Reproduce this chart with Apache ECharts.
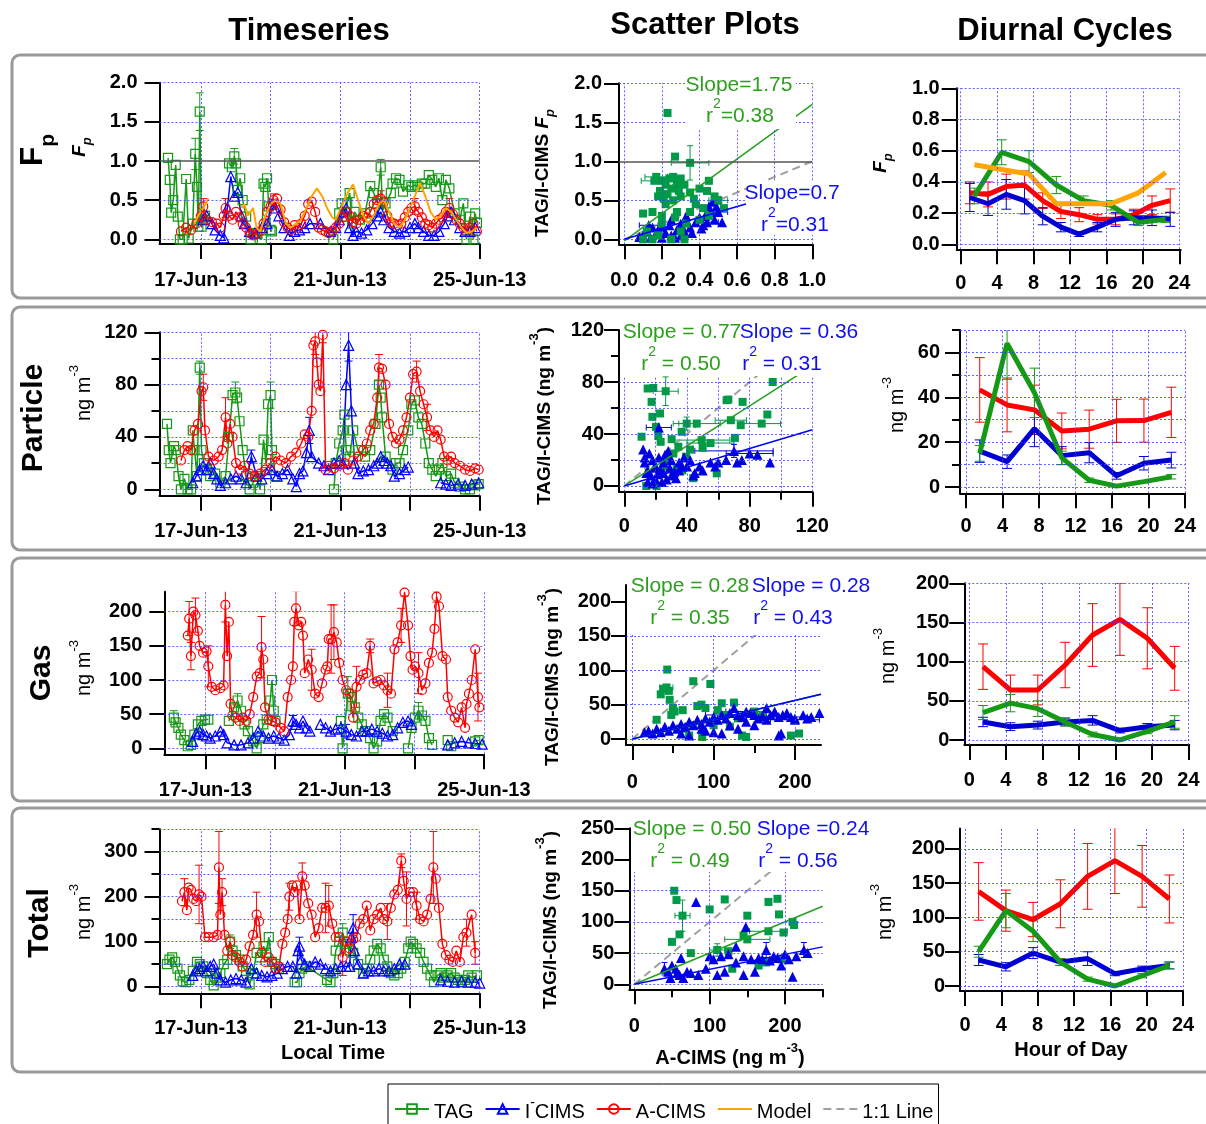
<!DOCTYPE html>
<html>
<head>
<meta charset="utf-8">
<title>TAG / I-CIMS / A-CIMS comparison</title>
<script src="https://cdn.jsdelivr.net/npm/echarts@6/dist/echarts.min.js"></script>
<style>
html,body{margin:0;padding:0;background:#fff;}
#chart{width:1206px;height:1124px;}
</style>
</head>
<body>
<div id="chart"></div>
<script>
// ---------------- data ----------------
// time axis: day of June 2013 (fractional); null marks a gap in the record
const tsTickDays = [17, 19, 21, 23, 25];
const tsLabelDays = [17, 21, 25];
const diurnalTicks = [0, 4, 8, 12, 16, 20, 24];
const hours3 = [1.5, 4.5, 7.5, 10.5, 13.5, 16.5, 19.5, 22.5];
const hours2 = [1, 3, 5, 7, 9, 11, 13, 15, 17, 19, 21, 23];

// Fp timeseries [day, value, (error)]
const fpTsTAG = [[16.06,1.04],[16.11,0.76],[16.15,0.34],[16.21,0.5],[16.28,0.95],[16.34,0.29],[16.40,0.0],[16.48,0.0],[16.58,0.77],[16.65,0.01],[16.77,0.2],[16.84,1.09,0.2],[16.89,0.67],[16.93,0.16],[16.97,1.63,0.24],[17.02,0.16],[17.07,0.25],[17.12,0.3],null,
  [17.81,0.97],[17.89,0.92],[17.96,1.06,0.1],[18.01,0.97],[18.06,0.63],[18.13,0.78],[18.20,0.5],[18.30,0.29],[18.43,0.0],[18.55,0.08],[18.75,0.0],[18.80,0.71],[18.85,0.67],[18.90,0.78],[18.95,0.42],[19.00,0.12],[19.04,0.1],null,
  [20.80,0.0],[20.97,0.33],[21.04,0.46],[21.12,0.29],[21.20,0.46],[21.27,0.59],[21.34,0.2],[21.41,0.35],[21.56,0.25],[21.71,0.33],[21.86,0.68],[21.96,0.59],[22.06,0.46],[22.16,0.92,0.1],[22.22,0.37],[22.30,0.46],[22.45,0.59],[22.50,0.71],[22.60,0.78],[22.70,0.76],[22.80,0.61],[22.95,0.69],[23.04,0.67],[23.14,0.69],[23.24,0.67],[23.34,0.71],[23.44,0.71],[23.54,0.82],[23.64,0.76],[23.74,0.67],[23.83,0.78],[23.93,0.5],[24.03,0.76],[24.13,0.65],[24.28,0.33],[24.43,0.25],[24.53,0.46],[24.62,0.0],[24.72,0.29],[24.82,0.0],[24.87,0.33],[24.92,0.21]];
const fpTsICIMS = [[17.07,0.25],[17.17,0.3],[17.32,0.2],[17.41,0.12],[17.56,0.05],[17.66,0.02],[17.76,0.4],[17.86,0.8],[17.96,0.55],[18.06,0.6],[18.16,0.3],[18.25,0.2],[18.40,0.1],[18.55,0.08],[18.75,0.15],[18.90,0.2],[19.04,0.45],[19.14,0.4],[19.24,0.3],[19.39,0.15],[19.54,0.05],[19.69,0.1],[19.83,0.12],[19.98,0.15],[20.13,0.2],[20.43,0.2],[20.72,0.1],[20.87,0.15],[20.97,0.25],[21.07,0.35],[21.17,0.4],[21.27,0.15],[21.37,0.05],[21.46,0.1],[21.61,0.08],[21.76,0.12],[21.91,0.2],[22.06,0.3],[22.16,0.35],[22.25,0.25],[22.40,0.15],[22.55,0.1],[22.70,0.08],[22.85,0.1],[23.00,0.15],[23.14,0.2],[23.24,0.15],[23.39,0.1],[23.54,0.05],[23.69,0.05],[23.83,0.1],[23.98,0.2],[24.08,0.3],[24.18,0.35],[24.28,0.25],[24.43,0.15],[24.58,0.1],[24.72,0.1],[24.87,0.15]];
const fpTsACIMS = [[16.43,0.1],[16.58,0.15],[16.72,0.12],[16.87,0.2],[17.0,0.3],[17.07,0.42,0.1],[17.17,0.25],[17.32,0.22],[17.46,0.2],[17.56,0.15],[17.66,0.3],[17.71,0.4,0.12],[17.81,0.3],[17.91,0.25],[18.01,0.35],[18.11,0.28],[18.20,0.2],[18.30,0.15],[18.40,0.08],[18.50,0.05],[18.60,0.07],[18.70,0.1],[18.80,0.2],[18.90,0.35],[19.00,0.42],[19.09,0.5,0.08],[19.19,0.52],[19.29,0.38],[19.39,0.22],[19.49,0.15],[19.59,0.12],[19.69,0.18],[19.79,0.15],[19.88,0.2],[19.98,0.3],[20.08,0.45],[20.18,0.48],[20.28,0.35],[20.38,0.15],[20.48,0.12],[20.58,0.1],[20.67,0.08],[20.77,0.1],[20.87,0.15],[20.97,0.2],[21.07,0.28],[21.17,0.35],[21.27,0.3],[21.37,0.22],[21.46,0.2],[21.56,0.25],[21.66,0.3],[21.76,0.28],[21.86,0.35],[21.96,0.45],[22.06,0.5],[22.16,0.52,0.1],[22.25,0.48],[22.35,0.3],[22.45,0.22],[22.55,0.2],[22.65,0.18],[22.75,0.2],[22.85,0.28],[22.95,0.35],[23.04,0.4],[23.14,0.42,0.1],[23.24,0.35],[23.34,0.28],[23.44,0.2],[23.54,0.18],[23.64,0.15],[23.74,0.2],[23.83,0.25],[23.93,0.28],[24.03,0.35],[24.13,0.4,0.12],[24.23,0.32],[24.33,0.25],[24.43,0.2],[24.53,0.15],[24.62,0.1],[24.72,0.15],[24.82,0.2],[24.92,0.1]];
const fpTsModel = [[16.82,0.2],[16.92,0.3],[17.07,0.4],[17.22,0.52],null,[18.16,0.4],[18.25,0.45],[18.35,0.3],[18.50,0.4],[18.60,0.15],[18.70,0.1],[18.85,0.3],[19.00,0.45],[19.14,0.5],[19.29,0.45],[19.44,0.2],[19.59,0.15],[19.74,0.2],[19.88,0.25],[20.03,0.4],[20.18,0.55],[20.33,0.65],[20.48,0.55],[20.62,0.4],[20.77,0.28],[20.87,0.25],[20.97,0.35],[21.07,0.45],[21.22,0.6],[21.37,0.7],[21.51,0.5],[21.66,0.3],[21.81,0.2],[21.96,0.3],[22.11,0.45],[22.25,0.5],[22.40,0.35],[22.55,0.2],[22.70,0.15],[22.85,0.25],[23.00,0.4],[23.14,0.55],[23.29,0.72],[23.44,0.55],[23.59,0.35],[23.74,0.25],[23.88,0.3],[24.03,0.4],[24.18,0.35],[24.33,0.25],[24.48,0.15],[24.62,0.08],[24.77,0.1],[24.92,0.15]];

// particle-phase timeseries (ng m-3)
const partTsTAG = [[16.03,50],[16.08,30],[16.13,20],[16.23,33],[16.28,30],[16.36,10],[16.43,0],[16.53,8],[16.62,0],[16.72,0],[16.77,45],[16.82,30],[16.89,10],[16.97,93,5],[17.02,30],[17.09,20],[17.17,15],[17.27,10],[17.41,12],[17.56,5],[17.71,10],[17.81,40],[17.91,72],[17.99,74,8],[18.04,70],[18.11,52],[18.20,30],[18.30,10],[18.40,0],[18.50,5],[18.60,10],[18.70,0],[18.80,38],[18.87,20],[18.93,65],[19.00,72,10],[19.04,30],[19.14,10],null,
  [20.82,0],[20.87,20],[20.97,35],[21.07,45],[21.12,57],[21.17,30],[21.27,25],[21.37,45],[21.51,30],[21.71,25],[21.86,30],[22.01,50],[22.11,80],[22.16,70],[22.20,55],[22.30,25],[22.50,15],[22.60,20],[22.70,20],[22.80,30],[22.95,45],[23.04,65],[23.14,68],[23.24,55],[23.34,50],[23.44,35],[23.54,20],[23.64,15],[23.74,10],[23.83,15],[23.93,20],[24.03,10],[24.18,12],[24.28,5],[24.43,2],[24.58,0],[24.72,0],[24.87,3],[24.97,4]];
const partTsICIMS = [[16.77,5],[16.87,10],[16.97,15],[17.07,18],[17.17,15],[17.27,20],[17.37,12],[17.46,8],[17.56,3],[17.71,5],[17.86,8],[18.01,10],[18.16,8],[18.30,5],[18.45,25,5],[18.60,10],[18.75,8],[18.90,12],[19.04,15],[19.19,10],[19.34,12],[19.49,15],[19.64,8],[19.74,2],[19.83,12],[19.93,14],[20.03,28],[20.11,45,10],[20.18,25],[20.38,20],[20.53,18],[20.67,15],[20.82,20],[20.97,22],[21.07,20],[21.17,80],[21.24,110,12],[21.32,60],[21.41,20],[21.51,12],[21.66,14],[21.81,15],[21.96,18],[22.06,20],[22.16,25],[22.25,22],[22.35,20],[22.45,18],[22.55,10],[22.70,12],[22.85,15],[22.95,17],null,[23.88,5],[24.03,4],[24.18,3],[24.38,4],[24.58,3],[24.77,4],[24.97,5]];
const partTsACIMS = [[16.43,22],[16.53,30],[16.62,33],[16.72,30],[16.82,45],[16.92,50],[17.02,75],[17.07,78,10],[17.12,45],[17.22,25],[17.37,22],[17.51,25],[17.61,30],[17.71,55,15],[17.76,35],[17.84,50],[17.91,40],[18.01,20],[18.11,15],[18.25,18],[18.40,12],[18.55,10],[18.70,12],[18.85,15],[19.00,20],[19.14,25],[19.29,22],[19.44,20],[19.59,25],[19.74,28],[19.88,35],[19.98,42],[20.08,40],[20.18,60],[20.23,110],[20.28,113,10],[20.33,97],[20.38,80],[20.43,75],[20.50,118,6],[20.58,15],[20.67,18],[20.82,16],[20.97,18],[21.12,20],[21.22,15],[21.37,22],[21.51,25],[21.66,30],[21.76,35],[21.86,45],[21.96,50],[22.06,70],[22.11,93,10],[22.20,92],[22.30,80],[22.40,50],[22.50,40],[22.60,35],[22.70,38],[22.80,45],[22.90,55],[23.00,70],[23.09,88],[23.19,90,8],[23.29,75],[23.39,65],[23.49,55,10],[23.59,45],[23.69,40],[23.79,45],[23.88,38],[23.98,25],[24.08,22],[24.18,25],[24.28,20],[24.43,18],[24.58,15],[24.72,14],[24.87,16],[24.97,15]];

// gas-phase timeseries (ng m-3)
const gasTsTAG = [[16.09,45,10],[16.14,38],[16.22,30],[16.29,20],[16.39,12],[16.49,3],[16.58,5],[16.68,20],[16.78,35],[16.88,40],[16.98,42],[17.08,42],null,
  [17.67,40],[17.82,60],[17.92,70,10],[18.02,55],[18.12,35],[18.22,25],[18.37,10],[18.47,0],[18.56,15],[18.66,35],[18.76,42],[18.86,70],[18.91,100],[18.96,55],[19.01,40],null,
  [20.89,40],[20.94,0],[21.09,80,25],[21.19,75],[21.29,60],[21.39,45],[21.49,35],[21.59,25],[21.73,15],[21.83,0],[21.93,10],[22.03,40],[22.13,50],[22.23,45],[22.38,25],null,
  [22.82,0],[22.92,30],[23.02,45],[23.12,55,12],[23.22,48],[23.32,40],[23.42,15],[23.51,5],null,[23.96,12],[24.06,3],null,[24.75,10],[24.85,12]];
const gasTsICIMS = [[16.63,10],[16.73,22],[16.83,25],[16.93,20],[17.03,18],[17.13,15],[17.28,18],[17.43,25],[17.52,20],[17.62,8],[17.82,5],[18.02,5],[18.22,8],[18.37,15],[18.51,25],[18.66,18],[18.81,15],[18.96,18],[19.11,15],[19.26,12],[19.41,20],[19.51,40,8],[19.60,35],[19.70,30],[19.80,40],[19.90,30],[20.00,25],null,
  [20.30,35],[20.45,30],[20.59,25],[20.74,28],[20.89,30],[21.04,25,10],[21.19,20],[21.34,18],[21.49,25],[21.63,25],[21.78,28],[21.93,25],[22.08,22],[22.23,18],[22.38,20],[22.52,30],[22.67,38],[22.82,40],[22.92,35],null,[23.96,5],[24.16,8],[24.36,10],[24.56,8],[24.75,7],[24.95,6]];
const gasTsACIMS = [[16.49,165],[16.53,190,25],[16.58,135,20],[16.65,200],[16.71,195,25],[16.78,172],[16.83,150],[16.93,140],[17.03,142],[17.08,120,30],[17.18,90],[17.28,85],[17.43,88],[17.52,92],[17.57,210,25],[17.62,135],[17.67,185],[17.72,65],[17.77,48],[17.87,45],[17.97,40],[18.07,45],[18.17,40],[18.27,50],[18.37,75],[18.47,105],[18.56,110],[18.61,148,45],[18.66,130],[18.71,60],[18.81,42],[18.91,40],[19.01,38],[19.16,30],[19.26,25],[19.36,75],[19.46,100],[19.51,120],[19.55,185],[19.60,205,25],[19.68,180],[19.75,185],[19.80,165],[19.85,110],[19.95,130],[20.05,115,30],[20.15,80],[20.25,75],[20.35,95],[20.45,115],[20.50,120],[20.54,160],[20.61,160,50],[20.69,170,40],[20.77,155],[20.84,125],[20.94,100],[21.04,85],[21.14,80],[21.24,45],[21.34,90,30],[21.44,100],[21.53,108],[21.63,110],[21.73,150,10],[21.83,95],[21.93,98],[22.03,100],[22.13,92],[22.23,85,25],[22.33,80],[22.43,145],[22.52,155],[22.62,180,25],[22.72,228,5],[22.82,180],[22.89,135],[22.95,115],[23.02,120],[23.12,110,30],[23.22,85],[23.32,95],[23.42,125],[23.51,140],[23.58,175],[23.64,222,8],[23.71,208],[23.81,135],[23.91,130],[23.96,75],[24.06,55],[24.16,45],[24.26,38],[24.36,60],[24.46,30],[24.50,65],[24.57,80],[24.65,100],[24.75,145],[24.83,75,35],[24.87,60]];

// total (gas + particle) timeseries (ng m-3)
const totTsTAG = [[16.03,50],[16.10,60],[16.18,65],[16.26,55],[16.33,40],[16.40,25],[16.48,12],[16.58,10],[16.67,15],[16.77,35],[16.89,55],[16.97,50],[17.07,45],[17.17,30],[17.27,15],[17.37,3],[17.46,20],[17.56,30],[17.66,50],[17.76,60],[17.84,100,15],[17.91,80],[18.01,70],[18.11,60],[18.20,45],[18.30,35],[18.40,5],[18.50,30],[18.60,75],[18.70,65],[18.80,90],[18.87,75],[18.95,110],[19.04,55],[19.14,50],[19.24,40],null,
  [19.69,10],[19.76,10],[19.83,30],[19.91,40],[20.03,45],[20.62,15],[20.72,10],[20.80,30],[20.87,80],[20.97,100],[21.07,120,20],[21.17,95],[21.27,80],[21.37,75],[21.51,50],[21.66,30],[21.76,40],[21.86,60],[21.96,80],[22.06,95],[22.16,85],[22.25,60],[22.35,45],[22.45,30],[22.55,25],[22.65,30],[22.75,40],[22.85,55],[22.95,85],[23.02,100],[23.09,95],[23.19,85],[23.29,75],[23.39,55],[23.49,40],[23.59,25],[23.69,10],[23.79,25],[23.88,30],[23.98,20],[24.08,25],[24.18,30],[24.28,20],[24.38,15],[24.48,10],[24.58,15],[24.67,25],[24.77,20],[24.92,25]];
const totTsICIMS = [[16.77,25],[16.87,35],[16.97,40],[17.07,45],[17.17,35],[17.27,45],[17.37,50],[17.46,30],[17.56,15],[17.71,10],[17.86,15],[18.01,18],[18.16,15],[18.30,10],[18.45,40],[18.60,30],[18.75,25],[18.90,22],[19.04,25],[19.19,30],[19.34,40],[19.49,45],[19.64,45],[19.74,30],[19.79,80],[19.83,90,20],[19.88,60],[19.98,50],[20.13,45],[20.28,55],[20.43,50],[20.58,40],[20.72,35],[20.87,40],[21.02,45],[21.17,45],[21.27,45],[21.32,110],[21.37,130,30],[21.41,80],[21.51,50],[21.66,30],[21.81,35],[21.96,35],[22.11,40],[22.25,35],[22.40,35],[22.55,40],[22.70,50],[22.85,50],null,[23.88,15],[24.08,12],[24.28,10],[24.48,12],[24.67,10],[24.87,10],[25.0,8]];
const totTsACIMS = [[16.46,190],[16.53,210,30],[16.60,170],[16.65,220],[16.72,215],[16.79,195],[16.87,190],[16.95,205,65],[17.02,200],[17.12,110],[17.22,110],[17.37,110],[17.48,115],[17.52,265,80],[17.56,160],[17.61,210,30],[17.68,115],[17.76,80],[17.84,100],[17.91,70],[18.01,65],[18.11,55],[18.20,45],[18.30,60],[18.40,90],[18.50,115],[18.60,160,50],[18.67,145],[18.75,75],[18.85,55],[18.95,65],[19.04,55],[19.14,40],[19.24,45],[19.34,95],[19.42,120],[19.49,150],[19.54,200,30],[19.62,225],[19.69,210],[19.76,225],[19.83,150],[19.91,245,30],[19.98,225],[20.08,185],[20.18,160],[20.28,110],[20.38,130],[20.48,175],[20.58,175,55],[20.67,180,45],[20.77,140],[20.87,110],[20.97,110],[21.07,65,40],[21.17,100],[21.27,85],[21.37,105],[21.46,110],[21.56,140],[21.66,150],[21.76,180],[21.86,125],[21.96,150],[22.06,160],[22.16,175],[22.25,150],[22.35,145,40],[22.45,175],[22.55,205],[22.65,215],[22.75,280,15],[22.82,235],[22.90,195,60],[23.00,210],[23.09,210],[23.19,180,30],[23.29,150],[23.39,145],[23.49,160],[23.59,195],[23.67,265,80],[23.74,240],[23.83,175],[23.93,95],[24.03,70],[24.13,60],[24.23,55],[24.33,80],[24.43,55],[24.53,110],[24.62,120,30],[24.77,160],[24.87,75,25]];

// scatter plots: [A-CIMS, TAG or I-CIMS, (x error), (y error)]
const fpScatTAG = [[0.23,1.62],[0.27,1.06],[0.35,0.98,0.1,0.22],[0.17,0.80,0.06,0],[0.20,0.75],[0.22,0.70],[0.25,0.65],[0.28,0.72],[0.32,0.70],[0.18,0.55],[0.22,0.45],[0.26,0.50],[0.30,0.55],[0.35,0.60],[0.40,0.65],[0.45,0.75],[0.38,0.45],[0.42,0.40],[0.50,0.50,0.05,0.05],[0.53,0.40],[0.15,0.35],[0.10,0.33],[0.20,0.30],[0.28,0.35],[0.12,0.10],[0.18,0.05],[0.25,0.0],[0.10,0.0],[0.15,0.0],[0.30,0.10],[0.33,0.20],[0.45,0.30],[0.48,0.55],[0.26,0.80],[0.30,0.78],[0.19,0.62],[0.23,0.58],[0.27,0.28],[0.35,0.35],[0.40,0.25],[0.20,0.20],[0.32,0.0],[0.16,0.75,0.07,0],[0.24,0.78],[0.21,0.52],[0.29,0.62],[0.37,0.52],[0.44,0.62]];
const fpScatICIMS = [[0.08,0.03],[0.10,0.05],[0.12,0.10],[0.14,0.02],[0.15,0.15],[0.17,0.08],[0.18,0.12],[0.20,0.15],[0.20,0.02],[0.22,0.08],[0.24,0.18],[0.25,0.05],[0.27,0.02],[0.28,0.12],[0.30,0.20],[0.30,0.05],[0.32,0.10],[0.33,0.30],[0.35,0.15],[0.36,0.08],[0.38,0.22],[0.40,0.28],[0.42,0.18],[0.43,0.30],[0.45,0.42],[0.46,0.35],[0.47,0.48],[0.48,0.25],[0.50,0.35,0.05,0],[0.52,0.22],[0.25,0.25],[0.28,0.75],[0.13,0.18,0.05,0],[0.41,0.14],[0.44,0.22,0.06,0],[0.49,0.42]];
const partScatTAG = [[14.9,75],[18.5,75.4],[26.4,72.9,8,11],[17.4,64.7],[17.9,53.2],[22.8,55.8],[20.2,45.5],[11,37.9],[21.7,38.4],[23.2,34],[30.2,36],[36.6,41.7],[39.8,48,5,5],[46.2,48,15,0],[49.4,35.3,18,0],[50,29.4],[34.5,30.2],[31.3,25],[27,20],[39.4,22.5],[59,9.7],[65.3,66],[66.4,66.5],[68,50.6,10,0],[70.6,37],[74.3,46.8],[75.5,64.7],[87.7,48,12,0],[91.3,55],[94.7,80],[14,0],[20.6,0],[44,6],[33.4,13.5],[25,15],[42,28],[55,33,15,0],[37,12]];
const partScatICIMS = [[12,28],[13,18],[14,10],[15,3],[15,12],[16,25],[17,8],[18,20],[19,14],[20,5],[20,15],[21,9],[22,22],[22,45,8,0],[23,12],[24,3],[25,10],[25,18],[27,5],[28,27],[29,14],[30,8],[30,20],[32,11],[33,6],[35,12],[35,18],[37,15],[38,22],[40,15],[42,20],[44,8],[45,10],[48,15],[50,12],[55,18],[58,15],[60,18],[65,20],[70,27,25,5],[72,18],[75,20],[80,25,15,0],[85,24],[93,18],[18,2],[26,24],[13,22]];
const gasScatTAG = [[43,101],[38,73],[42,75,8,0],[45,70],[35,65],[46,57],[50,45],[52,40],[48,35],[30,28],[62,42],[75,84],[96,80],[85,50],[80,48],[90,45],[110,52],[125,53],[105,42],[115,35],[130,30],[70,5],[86,3],[135,5],[140,3],[195,5],[205,8],[100,20],[120,18],[150,40],[160,35],[75,20],[65,15]];
const gasScatICIMS = [[15,10],[20,12],[25,8],[30,15],[35,10],[40,18],[45,12],[50,20],[55,15],[60,22],[65,18],[70,25],[75,20],[80,28],[85,22],[90,30],[95,25],[100,32],[105,28],[110,35,20,0],[115,30],[120,38],[125,45],[130,35],[135,32],[140,40,25,0],[145,38],[150,35],[155,30],[160,33,30,0],[165,28],[170,35],[175,40],[180,32,40,0],[185,35],[190,38],[195,32],[200,30],[210,35],[220,32],[230,38],[180,5],[183,8],[100,10],[110,8],[130,15],[140,25],[90,12],[60,8],[70,5],[85,15],[150,20],[165,45],[120,20],[200,28,30,0],[215,30]];
const totScatTAG = [[53,150],[56,135],[64,110,10,25],[60,80],[50,68],[75,50],[100,120],[120,136],[150,110],[145,78],[150,72,30,0],[178,132],[190,137],[192,112],[178,85,25,0],[198,83],[210,100],[212,95],[110,55,10,10],[125,53],[130,25],[175,35],[195,40],[165,30]];
const totScatICIMS = [[82,132],[148,92],[145,15],[210,12],[230,50],[225,55,0,12],[215,45],[200,48],[195,30],[185,45],[175,55,0,12],[165,42],[155,40],[145,45],[135,60],[125,48],[115,45],[105,40],[100,45],[95,25],[85,15],[75,18],[70,20],[65,10],[60,15],[55,25],[50,30],[45,20],[40,25,0,10],[62,42],[57,18],[48,10],[110,15],[120,20],[135,35],[160,20],[170,40],[180,38],[190,42],[205,40]];

// regression results: [slope, intercept]
const fpFitTAG = [1.75, -0.02], fpFitICIMS = [0.7, 0.0];
const partFitTAG = [0.77, 0], partFitICIMS = [0.36, 0];
const gasFitTAG = [0.28, 0], gasFitICIMS = [0.28, 0];
const totFitTAG = [0.50, 0], totFitICIMS = [0.24, 0];

// diurnal cycles
const fpDiACIMS = [0.33,0.32,0.37,0.38,0.28,0.21,0.19,0.16,0.16,0.19,0.25,0.28];
const fpDiACIMSErr = [0.07,0.08,0.08,0.09,0.05,0.045,0.045,0.03,0.035,0.035,0.06,0.075];
const fpDiICIMS = [0.30,0.26,0.32,0.28,0.18,0.11,0.065,0.11,0.16,0.17,0.17,0.16];
const fpDiICIMSErr = [0.09,0.075,0.095,0.085,0.055,0.03,0.015,0.03,0.045,0.045,0.05,0.045];
const fpDiTAG = [0.31,0.59,0.53,0.38,0.28,0.25,0.14,0.16];
const fpDiTAGErr = [0.05,0.08,0.07,0.055,0.03,0.03,0.02,0.02];
const fpDiModel = [0.51,0.48,0.45,0.26,0.26,0.26,0.33,0.46];
const partDiACIMS = [43.3,36.6,34.4,25.0,25.8,29.5,29.6,33.3];
const partDiACIMSErr = [14.4,12,11,8,8.5,9.6,9.6,11.2];
const partDiTAG = [15,64,42,13,3,0.4,2.4,4.6];
const partDiTAGErr = [3.5,16,11,3,1,0.5,0.5,1];
const partDiICIMS = [16,11.3,26,14,15.3,5,10.6,12];
const partDiICIMSErr = [5,3,8,4,4.5,1.5,3,3.5];
const gasDiACIMS = [93.6,63.8,63.8,95.7,134,154,129.8,91.5];
const gasDiACIMSErr = [29,19,19,29,40,46,39,28];
const gasDiTAG = [35,47,40,23,7,0,11,23];
const gasDiTAGErr = [9,11,10,5,3,1,3,8];
const gasDiICIMS = [23,17,19,23,25,12,17,19];
const gasDiICIMSErr = [6,5,5,5,6,3,4,6];
const totDiACIMS = [138,110,97,120,160,183,160,127];
const totDiACIMSErr = [42,30,25,35,48,48,45,35];
const totDiTAG = [50,110,80,35,10,0,15,30];
const totDiTAGErr = [8,25,15,5,3,1,3,5];
const totDiICIMS = [38,28,48,35,40,18,25,30];
const totDiICIMSErr = [8,6,8,5,10,3,4,5];

// ---------------- styling ----------------
const FONT = '"Liberation Sans", Arial, Helvetica, sans-serif';
const C = {
  tag: '#169a16', icims: '#0000ff', acims: '#ff0000', model: '#ffa500',
  tagS: '#009a48', icimsS: '#0000e0', fitG: '#22a022', one: '#a0a0a0',
  grid: 'rgba(60,60,255,0.8)', txtG: '#2e9e1e', txtB: '#1010ee', ref: '#555555'
};
const f1 = v => v.toFixed(1);
const fi = v => String(Math.round(v));
const fDay = v => v + '-Jun-13';
const steps = (a, b, s) => { const r = []; for (let v = a; v <= b + 1e-9; v += s) r.push(+v.toFixed(6)); return r; };

const tsX = m => ({ min: 15.815, max: 25, ticks: tsTickDays, labels: tsLabelDays, fmt: fDay, margin: m });
const diX = (min, max, m) => ({ min, max, ticks: diurnalTicks, labels: diurnalTicks, fmt: fi, margin: m });

// panel layout: grid rectangle (axis lines on its left/bottom edges), axis scales, grid-line values
const panels = [
  { box: [159.5, 82.7, 320.2, 161.3], x: tsX(26), y: { min: -0.06, max: 2, ticks: [0,0.5,1,1.5,2], labels: [0,0.5,1,1.5,2], fmt: f1, margin: 22 }, gx: tsTickDays, gy: [0,0.5,1.5,2], ref: 1 },
  { box: [619, 83.3, 193.3, 161], x: { min: -0.028, max: 1, ticks: [0,0.2,0.4,0.6,0.8,1], labels: [0,0.2,0.4,0.6,0.8,1], fmt: f1, margin: 26 }, y: { min: -0.064, max: 2, ticks: [0,0.5,1,1.5,2], labels: [0,0.5,1,1.5,2], fmt: f1, margin: 17 }, gx: [0,0.2,0.4,0.6,0.8,1], gy: [0,0.5,1.5,2], ref: 1 },
  { box: [956.7, 88.3, 224, 161], x: diX(-0.44, 24.15, 24), y: { min: -0.032, max: 1, ticks: [0,0.2,0.4,0.6,0.8,1], labels: [0,0.2,0.4,0.6,0.8,1], fmt: f1, margin: 17 }, gx: diurnalTicks, gy: [0,0.2,0.4,0.6,0.8,1] },

  { box: [159.5, 332.3, 320.2, 163.4], x: tsX(26), y: { min: -4.9, max: 120, ticks: [0,40,80,120], labels: [0,40,80,120], minor: [20,60,100], fmt: fi, margin: 22 }, gx: tsTickDays, gy: steps(0,120,20) },
  { box: [619, 330, 193.3, 161.7], x: { min: -3.4, max: 120, ticks: [0,40,80,120], labels: [0,40,80,120], minor: [20,60,100], fmt: fi, margin: 25 }, y: { min: -4.4, max: 120, ticks: [0,40,80,120], labels: [0,40,80,120], minor: [20,60,100], fmt: fi, margin: 15 }, gx: steps(0,120,20), gy: [0,20,40,60,80] },
  { box: [960, 330, 225, 163.3], x: diX(-0.66, 24, 23), y: { min: -2.8, max: 70, ticks: [0,20,40,60], labels: [0,20,40,60], minor: [10,30,50,70], fmt: fi, margin: 20 }, gx: diurnalTicks, gy: steps(0,70,10) },

  { box: [164.3, 591.7, 319.6, 162.6], x: tsX(26), y: { min: -8.8, max: 229.3, ticks: [0,50,100,150,200], labels: [0,50,100,150,200], fmt: fi, margin: 22 }, gx: tsTickDays, gy: [0,50,100,150,200] },
  { box: [626, 585, 195, 160], x: { min: -7.7, max: 232, ticks: [0,100,200], labels: [0,100,200], minor: [50,150], fmt: fi, margin: 27 }, y: { min: -8.7, max: 224, ticks: [0,50,100,150,200], labels: [0,50,100,150,200], fmt: fi, margin: 15 }, gx: [0,100,200], gy: [0,50,100,150] },
  { box: [964.3, 583.3, 225, 161.7], x: diX(-0.55, 24.1, 25), y: { min: -6.4, max: 200, ticks: [0,50,100,150,200], labels: [0,50,100,150,200], fmt: fi, margin: 15 }, gx: diurnalTicks, gy: [0,50,100,150,200] },

  { box: [159.5, 829.2, 320.2, 164.1], x: tsX(25), y: { min: -14.7, max: 350, ticks: [0,100,200,300], labels: [0,100,200,300], minor: [50,150,250,350], fmt: fi, margin: 22 }, gx: tsTickDays, gy: steps(0,350,50) },
  { box: [629.3, 828.3, 193.4, 161], x: { min: -6.6, max: 250, ticks: [0,100,200], labels: [0,100,200], minor: [50,150,250], fmt: fi, margin: 27 }, y: { min: -8, max: 250, ticks: [0,50,100,150,200,250], labels: [0,50,100,150,200,250], fmt: fi, margin: 15 }, gx: [0,100,200], gy: [0,50,100,150] },
  { box: [960, 828.4, 223, 162.6], x: diX(-0.55, 24, 24), y: { min: -7.3, max: 230, ticks: [0,50,100,150,200], labels: [0,50,100,150,200], fmt: fi, margin: 15 }, gx: diurnalTicks, gy: [0,50,100,150,200] }
];

// ---------------- option builders ----------------
function mainAxis(gi, a, pos) {
  return {
    type: 'value', gridIndex: gi, position: pos, min: a.min, max: a.max,
    axisLine: { show: true, onZero: false, lineStyle: { color: '#000', width: 2 } },
    axisTick: { show: true, inside: false, length: 15, customValues: a.ticks, lineStyle: { color: '#000', width: 2 } },
    axisLabel: { show: true, customValues: a.labels, formatter: a.fmt, margin: a.margin, color: '#000',
      fontFamily: FONT, fontSize: 20, fontWeight: 'bold', hideOverlap: false },
    splitLine: { show: false }, axisPointer: { show: false }
  };
}
function minorAxis(gi, a, pos) {
  return {
    type: 'value', gridIndex: gi, position: pos, min: a.min, max: a.max,
    axisLine: { show: false, onZero: false },
    axisTick: { show: true, inside: false, length: 8, customValues: a.minor, lineStyle: { color: '#000', width: 2 } },
    axisLabel: { show: false }, splitLine: { show: false }, axisPointer: { show: false }
  };
}

const option = {
  animation: false,
  backgroundColor: '#fff',
  textStyle: { fontFamily: FONT },
  grid: [], xAxis: [], yAxis: [], series: [], graphic: []
};

panels.forEach((p, i) => {
  option.grid.push({ left: p.box[0], top: p.box[1], width: p.box[2], height: p.box[3], containLabel: false, outerBoundsMode: 'none' });
  option.xAxis.push(mainAxis(i, p.x, 'bottom'));
  option.yAxis.push(mainAxis(i, p.y, 'left'));
});
panels.forEach((p, i) => {
  if (p.x.minor) option.xAxis.push(minorAxis(i, p.x, 'bottom'));
  if (p.y.minor) option.yAxis.push(minorAxis(i, p.y, 'left'));
});

const S = option.series;

function gridLines(gi) {
  const p = panels[gi];
  const data = [...p.gx.map(v => ({ xAxis: v })), ...p.gy.map(v => ({ yAxis: v }))];
  if (p.ref !== undefined) data.push({ yAxis: p.ref, lineStyle: { color: C.ref, type: 'solid', width: 1.5 } });
  S.push({
    type: 'line', xAxisIndex: gi, yAxisIndex: gi, data: [], silent: true, z: 1,
    markLine: { silent: true, symbol: ['none', 'none'], animation: false, label: { show: false },
      emphasis: { disabled: true }, lineStyle: { color: C.grid, type: [2, 2], width: 1 }, data }
  });
}

function errBars(gi, pts, color, cap, lw) {
  S.push({
    type: 'custom', xAxisIndex: gi, yAxisIndex: gi, data: pts, clip: true, silent: true, z: 2,
    renderItem: (params, api) => {
      const x = api.value(0), y = api.value(1), ex = api.value(2) || 0, ey = api.value(3) || 0;
      const st = { stroke: color, lineWidth: lw };
      const kids = [];
      if (ey > 0) {
        const a = api.coord([x, y + ey]), b = api.coord([x, y - ey]);
        kids.push({ type: 'line', shape: { x1: a[0], y1: a[1], x2: b[0], y2: b[1] }, style: st });
        kids.push({ type: 'line', shape: { x1: a[0] - cap, y1: a[1], x2: a[0] + cap, y2: a[1] }, style: st });
        kids.push({ type: 'line', shape: { x1: b[0] - cap, y1: b[1], x2: b[0] + cap, y2: b[1] }, style: st });
      }
      if (ex > 0) {
        const a = api.coord([x - ex, y]), b = api.coord([x + ex, y]);
        kids.push({ type: 'line', shape: { x1: a[0], y1: a[1], x2: b[0], y2: b[1] }, style: st });
        kids.push({ type: 'line', shape: { x1: a[0], y1: a[1] - cap, x2: a[0], y2: a[1] + cap }, style: st });
        kids.push({ type: 'line', shape: { x1: b[0], y1: b[1] - cap, x2: b[0], y2: b[1] + cap }, style: st });
      }
      return { type: 'group', children: kids };
    }
  });
}

const lineData = arr => arr.map(p => p ? [p[0], p[1]] : ['-', '-']);

function tsSeries(gi, name, arr, color, symbol) {
  const errs = arr.filter(p => p && p[2]).map(p => [p[0], p[1], 0, p[2]]);
  if (errs.length) errBars(gi, errs, color, 4, 1);
  S.push({
    name, type: 'line', xAxisIndex: gi, yAxisIndex: gi, data: lineData(arr),
    symbol, symbolSize: symbol === 'triangle' ? 10 : 9, showSymbol: true, showAllSymbol: true, connectNulls: false,
    lineStyle: { color, width: 1.5 },
    itemStyle: { color: 'rgba(255,255,255,0)', borderColor: color, borderWidth: 1.2 },
    emphasis: { disabled: true }, silent: true, z: 3
  });
}
function modelSeries(gi, arr) {
  S.push({ name: 'Model', type: 'line', xAxisIndex: gi, yAxisIndex: gi, data: lineData(arr), symbol: 'none',
    connectNulls: false, lineStyle: { color: C.model, width: 2 }, itemStyle: { color: C.model }, silent: true, z: 4 });
}
function scatSeries(gi, arr, color, symbol, size) {
  const errs = arr.filter(p => p.length > 2).map(p => [p[0], p[1], p[2], p[3]]);
  if (errs.length) errBars(gi, errs, color, 3, 1);
  S.push({ type: 'scatter', xAxisIndex: gi, yAxisIndex: gi, data: arr.map(p => [p[0], p[1]]), symbol, symbolSize: size,
    itemStyle: { color, opacity: 1 }, silent: true, z: 3 });
}
function fitLine(gi, fit, color) {
  const p = panels[gi];
  const x0 = 0, x1 = p.x.max;
  S.push({ type: 'line', xAxisIndex: gi, yAxisIndex: gi, data: [[x0, fit[1] + fit[0] * x0], [x1, fit[1] + fit[0] * x1]],
    symbol: 'none', lineStyle: { color, width: 1.5 }, silent: true, z: 4 });
}
let oneToOneNamed = false;
function oneToOne(gi) {
  const m = Math.min(panels[gi].x.max, panels[gi].y.max);
  S.push({ name: oneToOneNamed ? undefined : '1:1 Line', type: 'line', xAxisIndex: gi, yAxisIndex: gi, data: [[0, 0], [m, m]],
    symbol: 'none', lineStyle: { color: C.one, width: 2, type: [8, 5] }, itemStyle: { color: C.one }, silent: true, z: 3 });
  oneToOneNamed = true;
}
function diSeries(gi, hours, vals, errs, color) {
  if (errs) errBars(gi, hours.map((h, i) => [h, vals[i], 0, errs[i]]), color, 5, 1);
  S.push({ type: 'line', xAxisIndex: gi, yAxisIndex: gi, data: hours.map((h, i) => [h, vals[i]]), symbol: 'none',
    lineStyle: { color, width: 5 }, silent: true, z: 3 });
}

// ---- row 1: Fp ----
gridLines(0);
tsSeries(0, 'TAG', fpTsTAG, C.tag, 'rect');
tsSeries(0, 'I-CIMS', fpTsICIMS, C.icims, 'triangle');
tsSeries(0, 'A-CIMS', fpTsACIMS, C.acims, 'circle');
modelSeries(0, fpTsModel);

gridLines(1);
oneToOne(1);
scatSeries(1, fpScatICIMS, C.icimsS, 'triangle', 10);
scatSeries(1, fpScatTAG, C.tagS, 'rect', 8);
fitLine(1, fpFitTAG, C.fitG);
fitLine(1, fpFitICIMS, C.icims);

gridLines(2);
diSeries(2, hours2, fpDiACIMS, fpDiACIMSErr, C.acims);
diSeries(2, hours2, fpDiICIMS, fpDiICIMSErr, '#0000d0');
diSeries(2, hours3, fpDiTAG, fpDiTAGErr, C.tag);
diSeries(2, hours3, fpDiModel, null, C.model);

// ---- row 2: particle ----
gridLines(3);
tsSeries(3, 'TAG', partTsTAG, C.tag, 'rect');
tsSeries(3, 'I-CIMS', partTsICIMS, C.icims, 'triangle');
tsSeries(3, 'A-CIMS', partTsACIMS, C.acims, 'circle');

gridLines(4);
oneToOne(4);
scatSeries(4, partScatTAG, C.tagS, 'rect', 8);
scatSeries(4, partScatICIMS, C.icimsS, 'triangle', 10);
fitLine(4, partFitTAG, C.fitG);
fitLine(4, partFitICIMS, C.icims);

gridLines(5);
diSeries(5, hours3, partDiACIMS, partDiACIMSErr, C.acims);
diSeries(5, hours3, partDiICIMS, partDiICIMSErr, '#0000d0');
diSeries(5, hours3, partDiTAG, partDiTAGErr, C.tag);

// ---- row 3: gas ----
gridLines(6);
tsSeries(6, 'TAG', gasTsTAG, C.tag, 'rect');
tsSeries(6, 'I-CIMS', gasTsICIMS, C.icims, 'triangle');
tsSeries(6, 'A-CIMS', gasTsACIMS, C.acims, 'circle');

gridLines(7);
oneToOne(7);
scatSeries(7, gasScatTAG, C.tagS, 'rect', 8);
scatSeries(7, gasScatICIMS, C.icimsS, 'triangle', 10);
fitLine(7, gasFitTAG, C.fitG);
fitLine(7, gasFitICIMS, C.icims);

gridLines(8);
diSeries(8, hours3, gasDiACIMS, gasDiACIMSErr, C.acims);
diSeries(8, hours3, gasDiICIMS, gasDiICIMSErr, '#0000d0');
diSeries(8, hours3, gasDiTAG, gasDiTAGErr, C.tag);

// ---- row 4: total ----
gridLines(9);
tsSeries(9, 'TAG', totTsTAG, C.tag, 'rect');
tsSeries(9, 'I-CIMS', totTsICIMS, C.icims, 'triangle');
tsSeries(9, 'A-CIMS', totTsACIMS, C.acims, 'circle');

gridLines(10);
oneToOne(10);
scatSeries(10, totScatTAG, C.tagS, 'rect', 8);
scatSeries(10, totScatICIMS, C.icimsS, 'triangle', 10);
fitLine(10, totFitTAG, C.fitG);
fitLine(10, totFitICIMS, C.icims);

gridLines(11);
diSeries(11, hours3, totDiACIMS, totDiACIMSErr, C.acims);
diSeries(11, hours3, totDiICIMS, totDiICIMSErr, '#0000d0');
diSeries(11, hours3, totDiTAG, totDiTAGErr, C.tag);

// ---------------- text and frames ----------------
const G = option.graphic;
const font = (w, s) => `${w} ${s}px ${FONT}`;

function plainText(x, y, text, f, fill, rot) {
  G.push({ type: 'text', x, y, rotation: rot || 0, z: 60, silent: true,
    style: { text, font: f, fill: fill || '#000', align: 'center', verticalAlign: 'middle' } });
}
function richText(x, y, text, rich, rot) {
  G.push({ type: 'text', x, y, rotation: rot || 0, z: 60, silent: true,
    style: { text, rich, align: 'center', verticalAlign: 'middle' } });
}
const tok = (size, weight, style, extra) => Object.assign({ fontFamily: FONT, fontSize: size, fontWeight: weight || 'normal', fontStyle: style || 'normal', fill: '#000' }, extra || {});
const V = Math.PI / 2;

// row frames
[[55, 243], [307, 243], [558, 243], [808, 264]].forEach(([y, h]) => {
  G.push({ type: 'rect', z: 0, silent: true, shape: { x: 12, y, width: 1212, height: h, r: 8 },
    style: { fill: 'none', stroke: '#9a9a9a', lineWidth: 3 } });
});

// column headers
plainText(309, 31, 'Timeseries', font('bold', 31));
plainText(705, 25, 'Scatter Plots', font('bold', 31));
plainText(1065, 31, 'Diurnal Cycles', font('bold', 31));

// row titles
richText(38, 150, '{F|F}{p|p}', { F: tok(32, 'bold', 'normal', { verticalAlign: 'bottom', padding: [0, 0, 9, 0] }), p: tok(21, 'bold', 'normal', { verticalAlign: 'bottom' }) }, V);
plainText(34, 418, 'Particle', font('bold', 30), '#000', V);
plainText(42, 673, 'Gas', font('bold', 30), '#000', V);
plainText(40, 923, 'Total', font('bold', 30), '#000', V);

// y-axis titles
const fpRich = { F: tok(19, 'bold', 'italic', { verticalAlign: 'bottom', padding: [0, 0, 5, 0] }), p: tok(13, 'bold', 'italic', { verticalAlign: 'bottom' }) };
richText(82, 147, '{F|F}{p|p}', fpRich, V);
richText(883, 163, '{F|F}{p|p}', fpRich, V);
const unitRich = { a: tok(20, 'normal', 'normal', { verticalAlign: 'bottom', padding: [7, 0, 0, 0] }), s: tok(13, 'normal', 'normal', { verticalAlign: 'top' }) };
richText(81, 393, '{a|ng m}{s|-3}', unitRich, V);
richText(81, 668, '{a|ng m}{s|-3}', unitRich, V);
richText(81, 912, '{a|ng m}{s|-3}', unitRich, V);
richText(894, 405, '{a|ng m}{s|-3}', unitRich, V);
richText(885, 656, '{a|ng m}{s|-3}', unitRich, V);
richText(882, 912, '{a|ng m}{s|-3}', unitRich, V);
richText(545, 173, '{a|TAG/I-CIMS }{F|F}{p|p}', { a: tok(19, 'bold', 'normal', { verticalAlign: 'bottom', padding: [0, 0, 5, 0] }), F: tok(19, 'bold', 'italic', { verticalAlign: 'bottom', padding: [0, 0, 5, 0] }), p: tok(13, 'bold', 'italic', { verticalAlign: 'bottom' }) }, V);
const scYRich = { a: tok(19, 'bold', 'normal', { verticalAlign: 'bottom', padding: [7, 0, 0, 0] }), s: tok(13, 'bold', 'normal', { verticalAlign: 'top' }) };
richText(541, 416, '{a|TAG/I-CIMS (ng m}{s|-3}{a|)}', scYRich, V);
richText(549, 677, '{a|TAG/I-CIMS (ng m}{s|-3}{a|)}', scYRich, V);
richText(547, 920, '{a|TAG/I-CIMS (ng m}{s|-3}{a|)}', scYRich, V);

// x-axis titles
plainText(333, 1053, 'Local Time', font('bold', 20));
richText(730, 1055, '{a|A-CIMS (ng m}{s|-3}{a|)}', { a: tok(20, 'bold', 'normal', { verticalAlign: 'bottom', padding: [7, 0, 0, 0] }), s: tok(13, 'bold', 'normal', { verticalAlign: 'top' }) });
plainText(1071, 1050, 'Hour of Day', font('bold', 20));

// regression annotation boxes (opaque, as in the plotting program)
[[686, 72, 110, 57], [746, 181, 90, 54], [621, 318, 245, 58], [628, 572, 245, 63], [631, 814, 240, 58]].forEach(([x, y, w, h]) => {
  G.push({ type: 'rect', z: 50, silent: true, shape: { x, y, width: w, height: h }, style: { fill: '#fff' } });
});
function slopeText(x, y, text, color) { plainText(x, y, text, font('normal', 21), color); }
function r2Text(x, y, tail, color) {
  richText(x, y, '{r|r}{s|2}{r|' + tail + '}', {
    r: tok(21, 'normal', 'normal', { fill: color, verticalAlign: 'bottom', padding: [8, 0, 0, 0] }),
    s: tok(14, 'normal', 'normal', { fill: color, verticalAlign: 'top' })
  });
}
slopeText(739, 85, 'Slope=1.75', C.txtG);
r2Text(740, 112, '=0.38', C.txtG);
slopeText(792, 193, 'Slope=0.7', C.txtB);
r2Text(795, 221, '=0.31', C.txtB);

slopeText(682, 332, 'Slope = 0.77', C.txtG);
slopeText(799, 332, 'Slope = 0.36', C.txtB);
r2Text(681, 360, ' = 0.50', C.txtG);
r2Text(782, 360, ' = 0.31', C.txtB);

slopeText(690, 586, 'Slope = 0.28', C.txtG);
slopeText(811, 586, 'Slope = 0.28', C.txtB);
r2Text(690, 614, ' = 0.35', C.txtG);
r2Text(793, 614, ' = 0.43', C.txtB);

slopeText(692, 829, 'Slope = 0.50', C.txtG);
slopeText(813, 829, 'Slope =0.24', C.txtB);
r2Text(690, 857, ' = 0.49', C.txtG);
r2Text(798, 857, ' = 0.56', C.txtB);

// legend
option.legend = {
  show: true, left: 388, top: 1084, orient: 'horizontal', selectedMode: false,
  data: ['TAG', 'I-CIMS', 'A-CIMS', { name: 'Model', itemStyle: { opacity: 0 } }, { name: '1:1 Line', itemStyle: { opacity: 0 } }],
  itemWidth: 34, itemHeight: 12, itemGap: 11,
  padding: [12, 5, 15, 6], borderColor: '#000', borderWidth: 1, borderRadius: 0, backgroundColor: '#fff',
  textStyle: { fontFamily: FONT, fontSize: 20, color: '#000',
    rich: { n: { fontFamily: FONT, fontSize: 20, color: '#000', verticalAlign: 'bottom', padding: [6, 0, 0, 0] },
            s: { fontFamily: FONT, fontSize: 14, color: '#000', verticalAlign: 'top' } } },
  formatter: name => name === 'I-CIMS' ? '{n|I}{s|-}{n|CIMS}' : '{n|' + name + '}'
};

const chart = echarts.init(document.getElementById('chart'), null, { renderer: 'canvas' });
chart.setOption(option);
</script>
</body>
</html>
